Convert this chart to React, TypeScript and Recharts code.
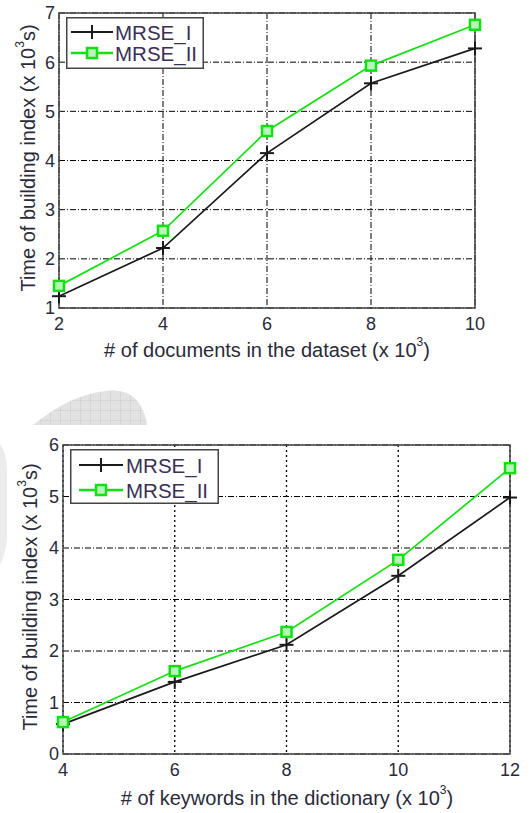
import React from 'react';
import { LineChart, Line, XAxis, YAxis, CartesianGrid, ReferenceArea, Label } from 'recharts';

// ---- Data ----
const docsCounts = [2, 4, 6, 8, 10];
const docsMrseI = [1.24, 2.22, 4.15, 5.57, 6.28];
const docsMrseII = [1.45, 2.57, 4.6, 5.93, 6.76];
const docsYTicks = [1, 2, 3, 4, 5, 6, 7];

const kwCounts = [4, 6, 8, 10, 12];
const kwMrseI = [0.58, 1.4, 2.12, 3.46, 4.98];
const kwMrseII = [0.62, 1.61, 2.37, 3.77, 5.55];
const kwYTicks = [0, 1, 2, 3, 4, 5, 6];

const seriesNames = ['MRSE_I', 'MRSE_II'];

const docsData = docsCounts.map((x, i) => ({ x, a: docsMrseI[i], b: docsMrseII[i] }));
const kwData = kwCounts.map((x, i) => ({ x, a: kwMrseI[i], b: kwMrseII[i] }));

const FONT = '"Liberation Sans", Arial, sans-serif';
const GREEN = '#11e011';
const BLACK = '#1a1a1a';
const GRID_DASH = '6 2 1 2';

const PlusDot = (props: any) => {
  const { cx, cy } = props;
  if (cx == null || cy == null) return null;
  const s = 7;
  return (
    <g>
      <line x1={cx - s} y1={cy} x2={cx + s} y2={cy} stroke={BLACK} strokeWidth={2} />
      <line x1={cx} y1={cy - s} x2={cx} y2={cy + s} stroke={BLACK} strokeWidth={2} />
    </g>
  );
};

const SquareDot = (props: any) => {
  const { cx, cy } = props;
  if (cx == null || cy == null) return null;
  const s = 5;
  return <rect x={cx - s} y={cy - s} width={2 * s} height={2 * s} fill="#b8f5b8" stroke={GREEN} strokeWidth={2.5} />;
};

const LegendBox = ({ left, top, w, h, row1, row2, lx1, lx2, tx }: any) => (
  <svg width={w} height={h} style={{ display: 'block', position: 'absolute', left, top }}>
    <rect x={0.75} y={0.75} width={w - 1.5} height={h - 1.5} fill="#fff" stroke="#444" strokeWidth={1.5} />
    <line x1={lx1} y1={row1} x2={lx2} y2={row1} stroke={BLACK} strokeWidth={2} />
    <PlusDot cx={(lx1 + lx2) / 2} cy={row1} />
    <line x1={lx1} y1={row2} x2={lx2} y2={row2} stroke={GREEN} strokeWidth={2.5} />
    <SquareDot cx={(lx1 + lx2) / 2} cy={row2} />
    <text x={tx} y={row1} dominantBaseline="central" fontFamily={FONT} fontSize={20.5} fill="#3a2f55">{seriesNames[0]}</text>
    <text x={tx} y={row2} dominantBaseline="central" fontFamily={FONT} fontSize={20.5} fill="#3a2f55">{seriesNames[1]}</text>
  </svg>
);

const yLabel = (cx: number, cy: number) => () => (
  <text
    x={cx}
    y={cy}
    transform={`rotate(-90, ${cx}, ${cy})`}
    textAnchor="middle"
    dominantBaseline="central"
    fontFamily={FONT}
    fontSize={20}
    fill="#2a2a3a"
  >
    Time of building index (x 10<tspan dy={-8} fontSize={12}>3</tspan><tspan dy={8}>s)</tspan>
  </text>
);

const xLabel = (cx: number, cy: number, text: string) => () => (
  <text x={cx} y={cy} textAnchor="middle" dominantBaseline="central" fontFamily={FONT} fontSize={20} fill="#2a2a3a">
    {text} (x 10<tspan dy={-8} fontSize={12}>3</tspan><tspan dy={8}>)</tspan>
  </text>
);

const tickStyle = { fontFamily: FONT, fontSize: 18, fill: '#2a2a3a' };

const Watermark = () => (
  <svg width={530} height={200} style={{ position: 'absolute', left: 0, top: 370 }}>
    <defs>
      <pattern id="hatch" width="10" height="10" patternUnits="userSpaceOnUse">
        <rect width="10" height="10" fill="#e2e2e2" />
        <path d="M0 0 L10 0 M0 0 L0 10" stroke="#c8c8c8" strokeWidth={1} />
      </pattern>
    </defs>
    <path d="M33 55 Q70 25 105 21 Q130 18 140 35 Q146 45 147 55 Z" fill="url(#hatch)" />
    <path d="M0 75 Q6 80 7 100 L7 170 Q5 185 0 195 Z" fill="#ececec" />
  </svg>
);

export default function App() {
  return (
    <div style={{ position: 'absolute', left: 0, top: 0, width: 530, height: 813, background: '#fff' }}>
      <Watermark />
      <div style={{ position: 'absolute', left: 0, top: 0 }}>
        <LineChart width={530} height={370} data={docsData} margin={{ top: 13, right: 55, bottom: 22, left: 0 }}>
          <CartesianGrid stroke="#000" strokeDasharray={GRID_DASH} strokeWidth={1} />
          <XAxis
            dataKey="x"
            type="number"
            domain={[2, 10]}
            ticks={docsCounts}
            height={40}
            tick={tickStyle}
            tickLine={false}
            tickSize={0}
            tickMargin={9}
            axisLine={false}
          >
            <Label content={xLabel(267, 350, '# of documents in the dataset')} />
          </XAxis>
          <YAxis
            type="number"
            domain={[1, 7]}
            ticks={docsYTicks}
            width={59}
            tick={tickStyle}
            tickLine={false}
            tickSize={0}
            tickMargin={4}
            axisLine={false}
          >
            <Label content={yLabel(28, 158)} />
          </YAxis>
          <ReferenceArea x1={2} x2={10} y1={1} y2={7} fill="none" stroke="#444" strokeWidth={1.5} />
          <Line dataKey="a" name={seriesNames[0]} stroke={BLACK} strokeWidth={1.7} dot={<PlusDot />} isAnimationActive={false} />
          <Line dataKey="b" name={seriesNames[1]} stroke={GREEN} strokeWidth={1.7} dot={<SquareDot />} isAnimationActive={false} />
        </LineChart>
        <LegendBox left={66} top={17} w={138} h={52} row1={15} row2={36} lx1={5} lx2={47} tx={49} />
      </div>
      <div style={{ position: 'absolute', left: 0, top: 420 }}>
        <LineChart width={530} height={393} data={kwData} margin={{ top: 25, right: 20, bottom: 29, left: 0 }}>
          <CartesianGrid stroke="#000" strokeDasharray={GRID_DASH} strokeWidth={1} vertical={false} />
          <CartesianGrid stroke="#000" strokeDasharray="2 3" strokeWidth={1.3} horizontal={false} />
          <XAxis
            dataKey="x"
            type="number"
            domain={[4, 12]}
            ticks={kwCounts}
            height={30}
            tick={tickStyle}
            tickLine={false}
            tickSize={0}
            tickMargin={9}
            axisLine={false}
          >
            <Label content={xLabel(287, 378, '# of keywords in the dictionary')} />
          </XAxis>
          <YAxis
            type="number"
            domain={[0, 6]}
            ticks={kwYTicks}
            width={63}
            tick={tickStyle}
            tickLine={false}
            tickSize={0}
            tickMargin={4}
            axisLine={false}
          >
            <Label content={yLabel(30, 177)} />
          </YAxis>
          <ReferenceArea x1={4} x2={12} y1={0} y2={6} fill="none" stroke="#444" strokeWidth={1.5} />
          <Line dataKey="a" name={seriesNames[0]} stroke={BLACK} strokeWidth={1.7} dot={<PlusDot />} isAnimationActive={false} />
          <Line dataKey="b" name={seriesNames[1]} stroke={GREEN} strokeWidth={1.7} dot={<SquareDot />} isAnimationActive={false} />
        </LineChart>
        <LegendBox left={70} top={29} w={149} h={55} row1={16} row2={41} lx1={9} lx2={53} tx={56} />
      </div>
    </div>
  );
}
